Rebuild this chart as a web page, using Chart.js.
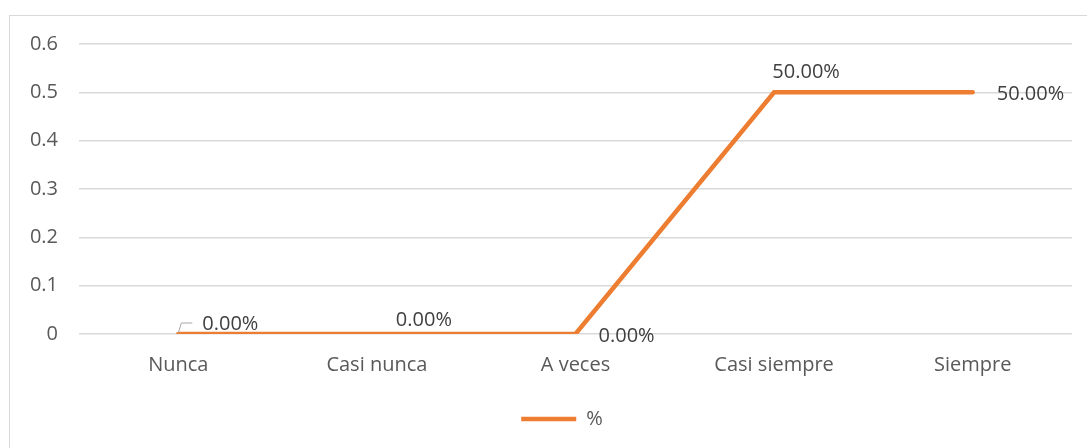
<!DOCTYPE html>
<html>
<head>
<meta charset="utf-8">
<script src="https://cdn.jsdelivr.net/npm/chart.js@4"></script>
<style>
    html, body { margin: 0; padding: 0; background: #fff; }
    #wrap { position: relative; width: 1087px; height: 448px; overflow: hidden; }
    #frame { position: absolute; left: 9px; top: 15px; width: 1100px; height: 460px; border: 1px solid #d9d9d9; box-sizing: border-box; }
    #myChart { position: absolute; left: 0; top: 0; }
</style>
</head>
<body>
<div id="wrap">
    <div id="frame"></div>
    <canvas id="myChart" width="1087" height="448"></canvas>
</div>
<script>
var categories = ["Nunca", "Casi nunca", "A veces", "Casi siempre", "Siempre"];
var percentValues = [0, 0, 0, 0.5, 0.5];
var yTicks = [0, 0.1, 0.2, 0.3, 0.4, 0.5, 0.6];
var seriesName = "%";

// where each data label sits relative to its point (Excel moved them by hand)
var labelOffsets = [
    {dx: 24, dy: -10, align: "left"},
    {dx: 47, dy: -14, align: "center"},
    {dx: 23, dy: 2, align: "left"},
    {dx: 32, dy: -20, align: "center"},
    {dx: 24, dy: 2, align: "left"}
];

var FONT = "'Open Sans', sans-serif";

var dataLabels = {
    id: "dataLabels",
    afterLayout: function(chart){
        // Excel puts the legend a bit right of the middle
        chart.legend.left += 52;
    },
    afterDatasetsDraw: function(chart){
        var ctx = chart.ctx;
        var meta = chart.getDatasetMeta(0);
        ctx.save();
        ctx.font = "20px " + FONT;
        ctx.fillStyle = "#404040";
        ctx.textBaseline = "middle";
        meta.data.forEach(function(pt, i){
            var o = labelOffsets[i];
            var v = chart.data.datasets[0].data[i];
            ctx.textAlign = o.align;
            ctx.fillText((v * 100).toFixed(2) + "%", pt.x + o.dx, pt.y + o.dy);
            if(i === 0){
                // little leader line
                ctx.strokeStyle = "#a6a6a6";
                ctx.lineWidth = 1;
                ctx.beginPath();
                ctx.moveTo(pt.x, pt.y - 1);
                ctx.lineTo(pt.x + 3, pt.y - 11);
                ctx.lineTo(pt.x + 14, pt.y - 11);
                ctx.stroke();
            }
        });
        ctx.restore();
    }
};

var ctx = document.getElementById('myChart').getContext('2d');
var myChart = new Chart(ctx, {
    type: 'line',
    data: {
        labels: categories,
        datasets: [{
            label: seriesName,
            data: percentValues,
            borderColor: '#ED7D31',
            backgroundColor: '#ED7D31',
            borderWidth: 4.5,
            borderCapStyle: 'round',
            borderJoinStyle: 'miter',
            pointRadius: 0,
            tension: 0
        }]
    },
    options: {
        responsive: false,
        animation: false,
        layout: {
            padding: {top: 44, right: 15, bottom: 9, left: 0}
        },
        plugins: {
            tooltip: {enabled: false},
            legend: {
                position: 'bottom',
                labels: {
                    usePointStyle: true,
                    pointStyle: 'line',
                    pointStyleWidth: 55,
                    boxWidth: 55,
                    boxHeight: 5,
                    padding: 4,
                    color: '#595959',
                    font: {family: FONT, size: 20}
                }
            }
        },
        scales: {
            x: {
                offset: true,
                grid: {display: false},
                border: {display: false},
                ticks: {
                    color: '#595959',
                    padding: 11,
                    font: {family: FONT, size: 20}
                },
                afterFit: function(scale){ scale.height = 71; }
            },
            y: {
                min: 0,
                max: 0.6,
                afterBuildTicks: function(scale){
                    scale.ticks = yTicks.map(function(v){ return {value: v}; });
                },
                grid: {color: '#d9d9d9', lineWidth: 1.5, drawTicks: false},
                border: {display: false},
                ticks: {
                    color: '#595959',
                    padding: 21,
                    font: {family: FONT, size: 20},
                    callback: function(v){ return String(v); }
                },
                afterFit: function(scale){ scale.width = 79; }
            }
        }
    },
    plugins: [dataLabels]
});
</script>
</body>
</html>
